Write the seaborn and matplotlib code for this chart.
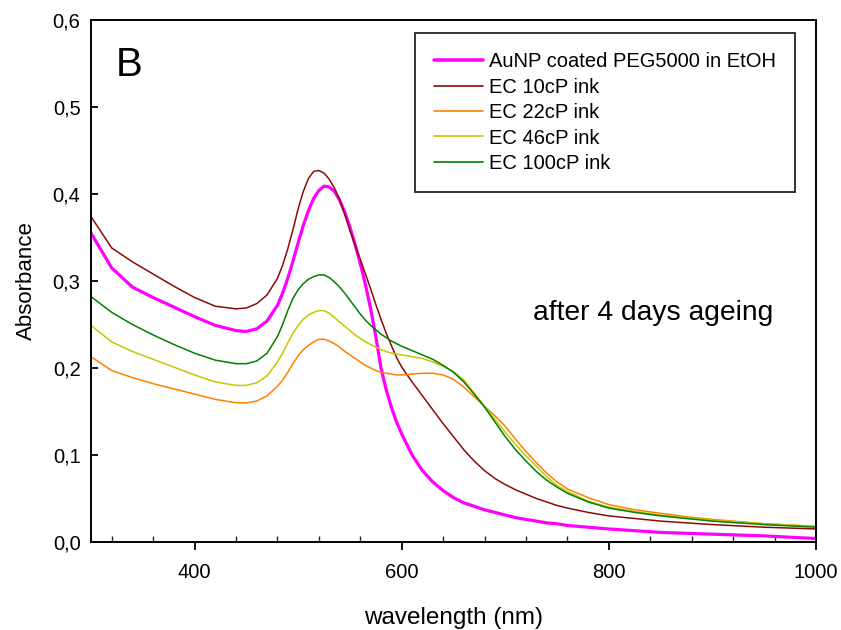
import numpy as np
import pandas as pd
import matplotlib
matplotlib.use("Agg")
import matplotlib.pyplot as plt
import seaborn as sns
from matplotlib.ticker import MultipleLocator, FixedLocator

# ---------------- data ----------------
wavelength = [300, 320, 340, 360, 380, 400, 420, 440,
              450, 460, 470, 480,
              485, 490, 495, 500, 505, 510, 515, 520, 525, 530, 535, 540,
              545, 550, 555, 560, 565, 570, 575, 580, 585, 590, 595, 600,
              610, 620, 630, 640, 650, 660, 670, 680, 690, 700, 710, 720,
              730, 740, 750, 760,
              780, 800, 825, 850, 875, 900, 950, 1000]

aunp_peg = [0.355, 0.315, 0.293, 0.281, 0.270, 0.259, 0.249, 0.243,
            0.242, 0.245, 0.254, 0.272,
            0.286, 0.303, 0.323, 0.344, 0.364, 0.381, 0.395, 0.404, 0.409, 0.408, 0.403, 0.393,
            0.379, 0.362, 0.342, 0.320, 0.296, 0.268, 0.236, 0.200, 0.175, 0.155, 0.138, 0.124,
            0.100, 0.082, 0.069, 0.059, 0.051, 0.045, 0.041, 0.037, 0.034, 0.031, 0.028, 0.026,
            0.024, 0.022, 0.021, 0.019,
            0.017, 0.015, 0.013, 0.011, 0.010, 0.009, 0.007, 0.004]

ec_10 = [0.374, 0.338, 0.322, 0.308, 0.294, 0.281, 0.271, 0.268,
         0.269, 0.274, 0.284, 0.303,
         0.318, 0.337, 0.359, 0.383, 0.403, 0.418, 0.426, 0.427, 0.424, 0.417, 0.407, 0.394,
         0.377, 0.358, 0.341, 0.325, 0.308, 0.291, 0.273, 0.256, 0.240, 0.226, 0.212, 0.201,
         0.184, 0.168, 0.152, 0.136, 0.121, 0.106, 0.093, 0.082, 0.073, 0.066, 0.060, 0.055,
         0.050, 0.046, 0.042, 0.039,
         0.034, 0.030, 0.027, 0.024, 0.022, 0.020, 0.017, 0.015]

ec_22 = [0.213, 0.197, 0.189, 0.182, 0.176, 0.170, 0.164, 0.160,
         0.160, 0.162, 0.168, 0.179,
         0.186, 0.195, 0.205, 0.214, 0.221, 0.226, 0.230, 0.233, 0.233, 0.231, 0.228, 0.224,
         0.219, 0.215, 0.211, 0.207, 0.203, 0.200, 0.197, 0.195, 0.194, 0.193, 0.192, 0.192,
         0.193, 0.194, 0.194, 0.192, 0.187, 0.178, 0.167, 0.156, 0.145, 0.133, 0.118, 0.104,
         0.091, 0.079, 0.069, 0.061,
         0.051, 0.043, 0.037, 0.033, 0.029, 0.026, 0.021, 0.018]

ec_46 = [0.249, 0.230, 0.219, 0.210, 0.201, 0.192, 0.184, 0.180,
         0.180, 0.183, 0.191, 0.207,
         0.217, 0.229, 0.240, 0.249, 0.256, 0.261, 0.264, 0.266, 0.266, 0.263, 0.258, 0.253,
         0.248, 0.243, 0.238, 0.234, 0.230, 0.227, 0.224, 0.221, 0.219, 0.217, 0.216, 0.215,
         0.213, 0.211, 0.207, 0.202, 0.196, 0.186, 0.171, 0.156, 0.141, 0.126, 0.112, 0.099,
         0.087, 0.075, 0.065, 0.058,
         0.047, 0.040, 0.035, 0.031, 0.028, 0.025, 0.021, 0.018]

ec_100 = [0.282, 0.264, 0.250, 0.238, 0.227, 0.217, 0.209, 0.205,
          0.205, 0.208, 0.217, 0.236,
          0.250, 0.266, 0.280, 0.290, 0.297, 0.302, 0.305, 0.307, 0.307, 0.304, 0.299, 0.293,
          0.286, 0.278, 0.270, 0.262, 0.255, 0.249, 0.244, 0.239, 0.235, 0.231, 0.228, 0.225,
          0.220, 0.215, 0.210, 0.203, 0.195, 0.184, 0.170, 0.155, 0.138, 0.121, 0.106, 0.093,
          0.081, 0.071, 0.063, 0.056,
          0.046, 0.039, 0.034, 0.030, 0.027, 0.024, 0.020, 0.017]

series_labels = ["AuNP coated PEG5000 in EtOH", "EC 10cP ink", "EC 22cP ink",
                 "EC 46cP ink", "EC 100cP ink"]
series_values = [aunp_peg, ec_10, ec_22, ec_46, ec_100]
series_colors = ["#FF00FF", "#8B0A0A", "#FF8000", "#C3C800", "#008000"]
series_widths = [2.3, 1.1, 1.1, 1.1, 1.1]

y_ticks = [0.0, 0.1, 0.2, 0.3, 0.4, 0.5, 0.6]
y_tick_labels = ["0,0", "0,1", "0,2", "0,3", "0,4", "0,5", "0,6"]
x_ticks = [400, 600, 800, 1000]
x_tick_labels = ["400", "600", "800", "1000"]

# ---------------- figure ----------------
sns.set_theme(style="ticks")
plt.rcParams["font.family"] = ["Liberation Sans", "DejaVu Sans"]
plt.rcParams["text.color"] = "black"
plt.rcParams["axes.labelcolor"] = "black"

fig = plt.figure(figsize=(8.41, 6.30), dpi=100)
ax = fig.add_axes([91 / 841, 1 - 542 / 630, 725 / 841, 522 / 630])

frames = []
for lab, vals in zip(series_labels, series_values):
    frames.append(pd.DataFrame({"wavelength": wavelength, "absorbance": vals, "series": lab}))
df = pd.concat(frames, ignore_index=True)

for lab, col, lw in zip(series_labels, series_colors, series_widths):
    sub = df[df["series"] == lab]
    sns.lineplot(data=sub, x="wavelength", y="absorbance", color=col,
                 linewidth=lw, label=lab, ax=ax, sort=False)

ax.set_xlim(300, 1000)
ax.set_ylim(0, 0.6)

ax.xaxis.set_major_locator(FixedLocator(x_ticks))
ax.set_xticklabels(x_tick_labels)
ax.xaxis.set_minor_locator(MultipleLocator(40))
ax.yaxis.set_major_locator(FixedLocator(y_ticks))
ax.set_yticklabels(y_tick_labels)

ax.tick_params(axis="x", which="major", direction="out", length=6, width=1.3,
               labelsize=14.5, pad=9, colors="black")
ax.tick_params(axis="x", which="minor", direction="in", length=4, width=1.0)
ax.tick_params(axis="y", which="major", direction="in", length=5, width=1.3,
               labelsize=14.5, pad=7.5, colors="black")

for sp in ax.spines.values():
    sp.set_visible(True)
    sp.set_linewidth(1.4)
    sp.set_color("black")

ax.set_xlabel("wavelength (nm)", fontsize=17.5, labelpad=18)
ax.set_ylabel("Absorbance", fontsize=16, labelpad=11)

ax.text(0.034, 0.914, "B", transform=ax.transAxes, fontsize=29,
        va="center", ha="left", color="black")
ax.text(0.61, 0.439, "after 4 days ageing", transform=ax.transAxes,
        fontsize=20.3, va="center", ha="left", color="black")

leg = ax.legend(loc="upper left", bbox_to_anchor=(0.447, 0.975), fontsize=14.5,
                frameon=True, fancybox=False, shadow=False, borderpad=0.95,
                handlelength=2.4, handletextpad=0.3, labelspacing=0.32,
                borderaxespad=0)
leg.get_frame().set_edgecolor("black")
leg.get_frame().set_linewidth(1.4)
for t in leg.get_texts():
    t.set_color("black")
for h, lw in zip(leg.get_lines(), series_widths):
    h.set_linewidth(lw * 1.1)

fig.savefig("out.png", dpi=100)
